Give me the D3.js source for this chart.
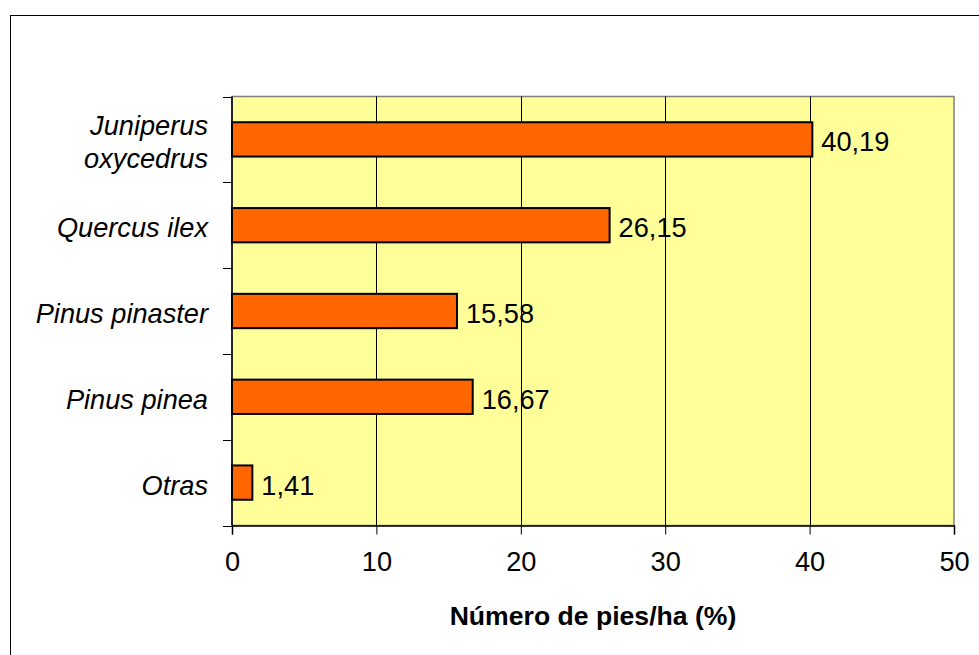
<!DOCTYPE html>
<html>
<head>
<meta charset="utf-8">
<script src="https://cdn.jsdelivr.net/npm/d3@7"></script>
<style>
  html, body { margin: 0; padding: 0; background: #fff; }
  svg { display: block; font-family: "Liberation Sans", Arial, sans-serif; }
</style>
</head>
<body>
<div id="chart"></div>
<script>
// data
const species = [["Juniperus", "oxycedrus"], ["Quercus ilex"], ["Pinus pinaster"], ["Pinus pinea"], ["Otras"]];
const values = [40.19, 26.15, 15.58, 16.67, 1.41];
const xTicks = [0, 10, 20, 30, 40, 50];
const xTitle = "Número de pies/ha (%)";

(function() {
  const width = 979, height = 655;
  const plot = { left: 232, right: 954, top: 96.5, bottom: 525.5 };
  const fmt = v => String(v).replace(".", ",");
  const fs = "27.2px";

  const svg = d3.select("#chart").append("svg")
    .attr("width", width)
    .attr("height", height);

  // outer chart frame (runs off the right and bottom edges)
  svg.append("rect")
    .attr("x", 10.5).attr("y", 15.5)
    .attr("width", width).attr("height", height)
    .attr("fill", "#fff")
    .attr("stroke", "#000");

  const x = d3.scaleLinear().domain([0, 50]).range([plot.left, plot.right]);
  const y = d3.scaleBand()
    .domain(d3.range(species.length))
    .range([plot.top, plot.bottom])
    .paddingInner(0.6)
    .paddingOuter(0.3);
  const band = d3.scaleBand()
    .domain(d3.range(species.length))
    .range([plot.top, plot.bottom]);

  // plot background
  svg.append("rect")
    .attr("x", plot.left).attr("y", plot.top)
    .attr("width", plot.right - plot.left)
    .attr("height", plot.bottom - plot.top)
    .attr("fill", "#FFFF99")
    .attr("stroke", "#808080")
    .attr("stroke-width", 1.5);

  // vertical gridlines
  svg.append("g")
    .selectAll("line")
    .data(xTicks.slice(1, -1))
    .join("line")
    .attr("x1", d => Math.round(x(d)) + 0.5)
    .attr("x2", d => Math.round(x(d)) + 0.5)
    .attr("y1", plot.top)
    .attr("y2", plot.bottom)
    .attr("stroke", "#000")
    .attr("stroke-width", 1);

  // bars
  svg.append("g")
    .selectAll("rect")
    .data(values)
    .join("rect")
    .attr("x", x(0))
    .attr("y", (d, i) => y(i))
    .attr("width", d => x(d) - x(0))
    .attr("height", y.bandwidth())
    .attr("fill", "#FF6600")
    .attr("stroke", "#000")
    .attr("stroke-width", 2);

  // value labels
  svg.append("g")
    .selectAll("text")
    .data(values)
    .join("text")
    .attr("x", d => x(d) + 9)
    .attr("y", (d, i) => y(i) + y.bandwidth() / 2 + 12)
    .style("font-size", fs)
    .attr("fill", "#000")
    .text(d => fmt(d));

  // x axis
  const xAxis = svg.append("g")
    .attr("transform", `translate(0,${plot.bottom})`)
    .call(d3.axisBottom(x).tickValues(xTicks).tickSize(9).tickPadding(17).tickFormat(d3.format("d")));
  xAxis.select(".domain").attr("stroke", "#000").attr("stroke-width", 1.5);
  xAxis.selectAll(".tick line").attr("stroke", "#000");
  xAxis.selectAll("text")
    .attr("fill", "#000")
    .style("font-size", fs)
    .style("font-family", "'Liberation Sans', Arial, sans-serif");

  // y axis: ticks at category boundaries
  svg.append("line")
    .attr("x1", plot.left).attr("x2", plot.left)
    .attr("y1", plot.top).attr("y2", plot.bottom)
    .attr("stroke", "#000").attr("stroke-width", 1.5);
  svg.append("g")
    .selectAll("line")
    .data(d3.range(species.length + 1))
    .join("line")
    .attr("x1", plot.left - 9)
    .attr("x2", plot.left)
    .attr("y1", i => Math.round(plot.top + i * band.bandwidth()) + 0.5)
    .attr("y2", i => Math.round(plot.top + i * band.bandwidth()) + 0.5)
    .attr("stroke", "#000");

  // category labels
  const catText = svg.append("g")
    .selectAll("text")
    .data(species)
    .join("text")
    .attr("text-anchor", "end")
    .style("font-size", fs)
    .style("font-style", "italic")
    .attr("fill", "#000")
    .attr("transform", (d, i) => `translate(208,${y(i) + y.bandwidth() / 2 + 12})`);
  catText.selectAll("tspan")
    .data((d) => d.map((s, k) => ({ s, k, n: d.length })))
    .join("tspan")
    .attr("x", 0)
    .attr("y", d => (d.k - (d.n - 1) / 2) * 33)
    .text(d => d.s);

  // axis title
  svg.append("text")
    .attr("x", (plot.left + plot.right) / 2)
    .attr("y", 625)
    .attr("text-anchor", "middle")
    .style("font-size", "26.6px")
    .style("font-weight", "bold")
    .attr("fill", "#000")
    .text(xTitle);
})();
</script>
</body>
</html>
